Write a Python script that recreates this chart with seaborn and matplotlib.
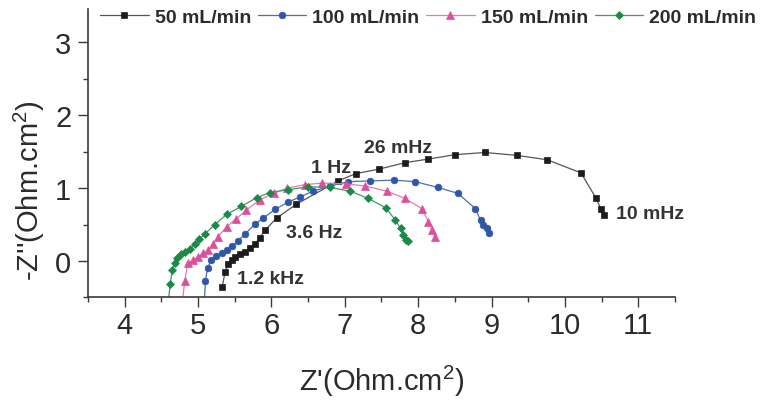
import numpy as np
import pandas as pd
import matplotlib
matplotlib.use("Agg")
import matplotlib.pyplot as plt
from matplotlib.ticker import MultipleLocator
import seaborn as sns

# ---- data ----
labels = ["50 mL/min", "100 mL/min", "150 mL/min", "200 mL/min"]

x_50 = [5.33, 5.37, 5.41, 5.46, 5.51, 5.57, 5.64, 5.71, 5.78, 5.84, 5.91, 6.07, 6.34,
        6.91, 7.15, 7.46, 7.82, 8.14, 8.50, 8.91, 9.35, 9.76, 10.22, 10.42, 10.49, 10.53]
y_50 = [-0.35, -0.145, -0.045, 0.01, 0.06, 0.09, 0.13, 0.18, 0.24, 0.32, 0.42, 0.59, 0.78,
        1.10, 1.20, 1.26, 1.35, 1.40, 1.46, 1.49, 1.45, 1.39, 1.21, 0.87, 0.72, 0.63]

x_100 = [5.08, 5.10, 5.13, 5.18, 5.25, 5.32, 5.39, 5.46, 5.54, 5.64, 5.78, 5.89, 6.05, 6.23,
         6.39, 6.57, 6.80, 7.05, 7.35, 7.67, 7.96, 8.27, 8.54, 8.78, 8.85, 8.89, 8.94, 8.97]
y_100 = [-0.70, -0.27, -0.10, 0.02, 0.07, 0.11, 0.15, 0.20, 0.27, 0.37, 0.51, 0.59, 0.71, 0.81,
         0.88, 0.96, 1.03, 1.09, 1.10, 1.11, 1.09, 1.01, 0.93, 0.72, 0.56, 0.49, 0.45, 0.39]

x_150 = [4.77, 4.82, 4.86, 4.93, 5.00, 5.07, 5.14, 5.21, 5.27, 5.39, 5.52, 5.66, 5.84, 6.03,
         6.21, 6.46, 6.69, 7.01, 7.28, 7.57, 7.82, 8.05, 8.14, 8.19, 8.23]
y_150 = [-0.70, -0.27, -0.03, 0.01, 0.06, 0.11, 0.15, 0.23, 0.33, 0.47, 0.58, 0.70, 0.84, 0.93,
         1.00, 1.05, 1.07, 1.06, 1.03, 0.96, 0.86, 0.72, 0.54, 0.42, 0.33]

x_200 = [4.58, 4.62, 4.65, 4.68, 4.72, 4.77, 4.82, 4.89, 4.96, 5.02, 5.09, 5.23, 5.39, 5.59,
         5.80, 5.98, 6.23, 6.50, 6.80, 7.07, 7.32, 7.56, 7.69, 7.76, 7.80, 7.83, 7.86]
y_200 = [-0.70, -0.32, -0.12, -0.03, 0.04, 0.09, 0.13, 0.17, 0.23, 0.30, 0.37, 0.50, 0.64, 0.75,
         0.87, 0.94, 0.98, 1.02, 1.01, 0.96, 0.86, 0.73, 0.56, 0.45, 0.36, 0.29, 0.27]

freq_labels = ["26 mHz", "1 Hz", "3.6 Hz", "1.2 kHz", "10 mHz"]
freq_x = [7.72, 6.81, 6.58, 5.99, 11.16]
freq_y = [1.56, 1.29, 0.39, -0.24, 0.65]

x_ticks = [4, 5, 6, 7, 8, 9, 10, 11]
y_ticks = [0, 1, 2, 3]

# ---- styling ----
sns.set_theme(style="ticks")
plt.rcParams["font.family"] = ["Liberation Sans", "DejaVu Sans"]
plt.rcParams["mathtext.fontset"] = "custom"
plt.rcParams["mathtext.rm"] = "Liberation Sans"

series = [
    (x_50, y_50, "s", "#1c1c1c", "#555555", 4.4),
    (x_100, y_100, "o", "#2f56a8", "#4a6db5", 4.8),
    (x_150, y_150, "^", "#de4f9a", "#e27ab2", 5.3),
    (x_200, y_200, "D", "#1b8a48", "#3d9a62", 4.2),
]

fig = plt.figure(figsize=(7.82, 4.02), dpi=100)
ax = fig.add_axes([0.1125, 0.2575, 0.7506, 0.7177])

for (xs, ys, mk, mc, lc, ms), lab in zip(series, labels):
    df = pd.DataFrame({"x": xs, "y": ys})
    sns.lineplot(data=df, x="x", y="y", sort=False, estimator=None, ax=ax,
                 color=lc, linewidth=0.9, marker=mk, markersize=ms,
                 markerfacecolor=mc, markeredgecolor=mc, markeredgewidth=0.5,
                 label=lab)

for t, fx, fy in zip(freq_labels, freq_x, freq_y):
    ax.text(fx, fy, t, ha="center", va="center", fontsize=14, fontweight="bold",
            color="#333333", clip_on=False)

ax.set_xlim(3.5, 11.5)
ax.set_ylim(-0.5, 3.46)
ax.set_xticks(x_ticks)
ax.set_yticks(y_ticks)
ax.xaxis.set_minor_locator(MultipleLocator(0.5))
ax.yaxis.set_minor_locator(MultipleLocator(0.5))
ax.tick_params(which="major", direction="out", length=7, width=1.0, color="#3a3a3a",
               labelsize=21, labelcolor="#2b2b2b")
ax.tick_params(axis="x", which="major", pad=3)
ax.tick_params(axis="y", which="major", pad=5)
ax.tick_params(which="minor", direction="out", length=3.5, width=1.0, color="#3a3a3a")

for s in ["top", "right"]:
    ax.spines[s].set_visible(False)
for s in ["left", "bottom"]:
    ax.spines[s].set_color("#3a3a3a")
    ax.spines[s].set_linewidth(1.2)

ax.set_xlabel("Z'(Ohm.cm$^{2}$)", fontsize=21, color="#2b2b2b")
ax.set_ylabel("-Z''(Ohm.cm$^{2}$)", fontsize=21, color="#2b2b2b", va="center")
ax.xaxis.set_label_coords(0.5, -0.225)
ax.yaxis.set_label_coords(-0.099, 0.375)

ax.legend_.remove()
handles, hlabels = ax.get_legend_handles_labels()
fig.legend(handles, hlabels, loc="center left", bbox_to_anchor=(0.128, 0.955),
           ncol=4, frameon=False, borderpad=0, borderaxespad=0,
           handlelength=2.5, handletextpad=0.3, columnspacing=0.35,
           prop={"weight": "bold", "size": 14}, labelcolor="#2b2b2b")

fig.savefig("out.png", dpi=100, facecolor="white")
